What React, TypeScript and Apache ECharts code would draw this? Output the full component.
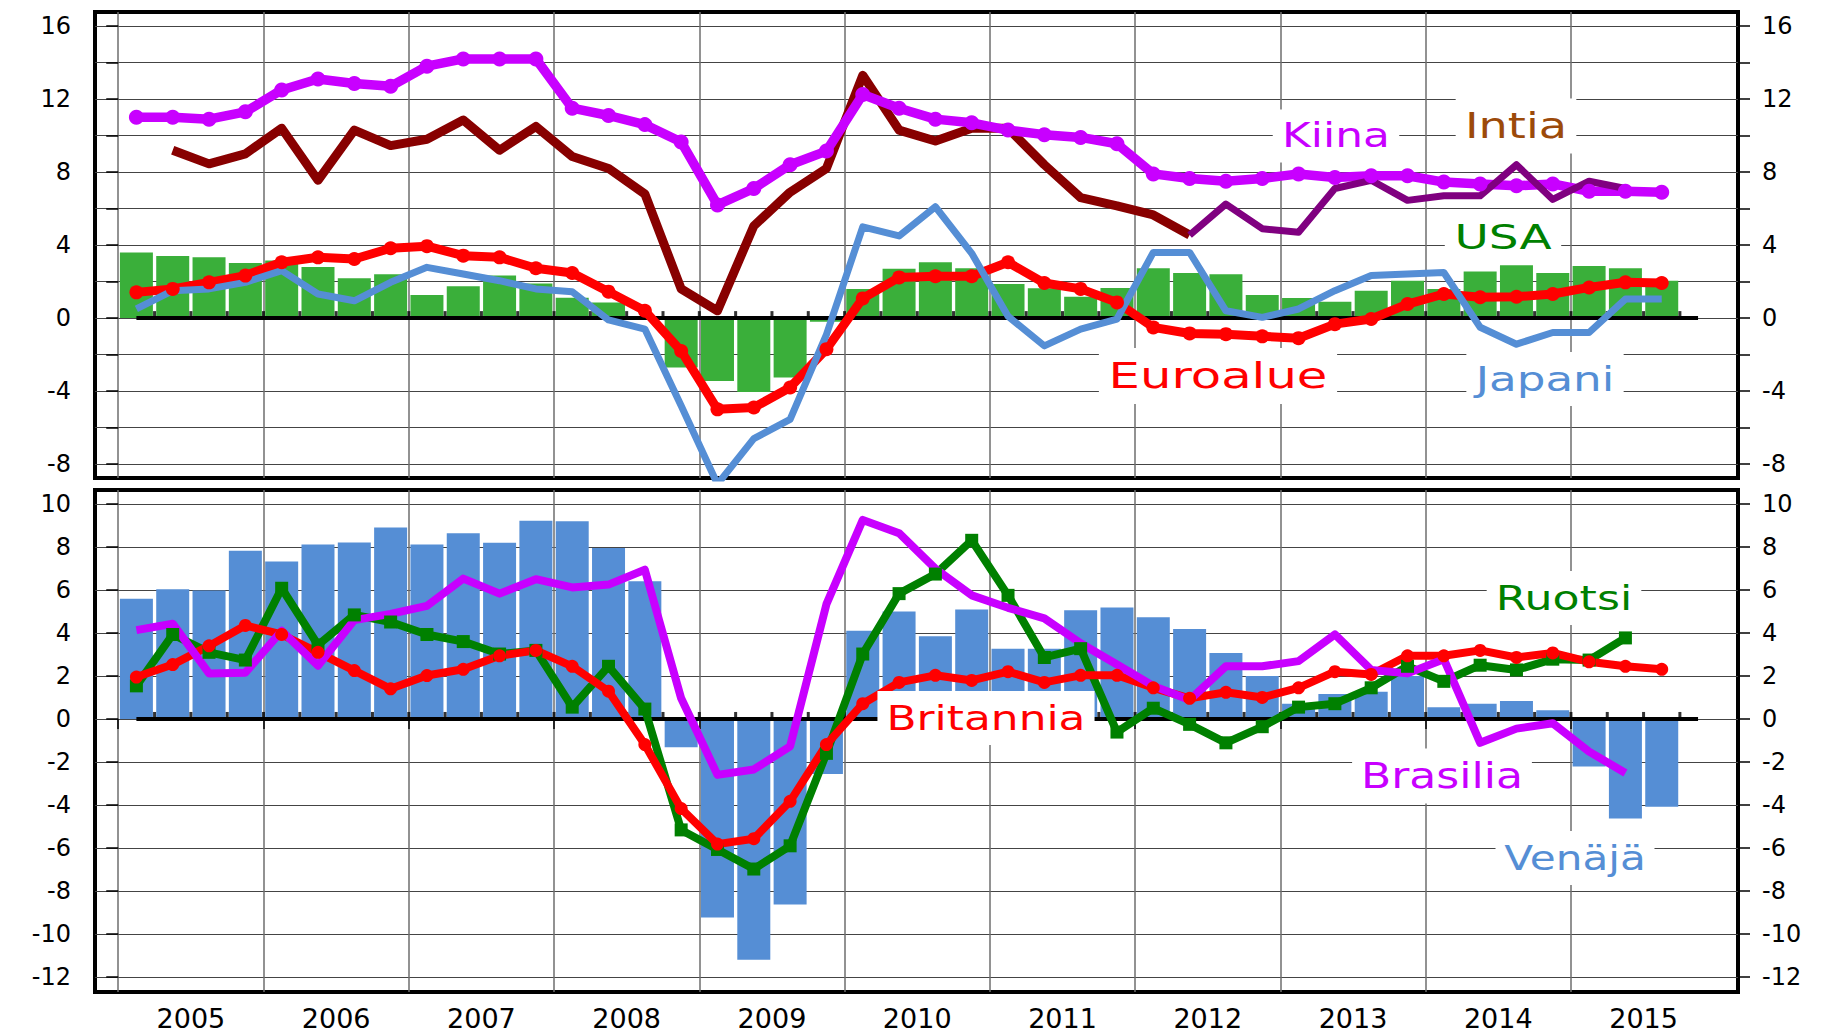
import React, { useEffect, useRef } from 'react';
import * as echarts from 'echarts';

// ---------- DATA ----------
const QUARTERS = [
  '2005Q1','2005Q2','2005Q3','2005Q4','2006Q1','2006Q2','2006Q3','2006Q4',
  '2007Q1','2007Q2','2007Q3','2007Q4','2008Q1','2008Q2','2008Q3','2008Q4',
  '2009Q1','2009Q2','2009Q3','2009Q4','2010Q1','2010Q2','2010Q3','2010Q4',
  '2011Q1','2011Q2','2011Q3','2011Q4','2012Q1','2012Q2','2012Q3','2012Q4',
  '2013Q1','2013Q2','2013Q3','2013Q4','2014Q1','2014Q2','2014Q3','2014Q4',
  '2015Q1','2015Q2','2015Q3'
];
const YEARS = ['2005','2006','2007','2008','2009','2010','2011','2012','2013','2014','2015'];

// Top panel
const USA = [3.6, 3.4, 3.33, 3.02, 3.15, 2.8, 2.18, 2.4, 1.26, 1.74, 2.33, 1.9, 1.12, 0.86, -0.1, -2.7, -3.44, -4.05, -3.26, -0.2, 1.6, 2.7, 3.06, 2.73, 1.87, 1.63, 1.17, 1.65, 2.73, 2.47, 2.4, 1.26, 1.1, 0.9, 1.5, 2.05, 1.6, 2.56, 2.9, 2.47, 2.86, 2.73, 2.05];
const EUROALUE = [1.41, 1.6, 1.96, 2.33, 3.06, 3.33, 3.24, 3.83, 3.94, 3.42, 3.33, 2.73, 2.47, 1.45, 0.4, -1.8, -5.0, -4.9, -3.8, -1.7, 1.08, 2.23, 2.29, 2.29, 3.06, 1.92, 1.6, 0.86, -0.51, -0.84, -0.88, -1.0, -1.1, -0.33, -0.05, 0.77, 1.32, 1.14, 1.17, 1.32, 1.68, 1.96, 1.92];
const JAPANI = [0.5, 1.5, 1.6, 1.96, 2.6, 1.32, 0.95, 1.96, 2.78, 2.42, 2.05, 1.6, 1.45, -0.1, -0.6, -4.8, -9.1, -6.6, -5.55, -0.9, 5.0, 4.5, 6.1, 3.55, 0.1, -1.52, -0.6, -0.05, 3.6, 3.6, 0.4, 0.04, 0.5, 1.5, 2.33, 2.42, 2.5, -0.5, -1.43, -0.79, -0.79, 1.04, 1.04];
const KIINA = [11.0, 11.0, 10.9, 11.3, 12.5, 13.1, 12.85, 12.7, 13.8, 14.2, 14.2, 14.2, 11.5, 11.1, 10.6, 9.65, 6.2, 7.1, 8.4, 9.15, 12.25, 11.5, 10.9, 10.7, 10.3, 10.05, 9.9, 9.55, 7.9, 7.65, 7.5, 7.65, 7.9, 7.7, 7.8, 7.8, 7.45, 7.35, 7.25, 7.35, 6.95, 6.95, 6.9];
const INTIA_OLD = [null, 9.2, 8.45, 9.0, 10.4, 7.55, 10.3, 9.45, 9.8, 10.85, 9.2, 10.5, 8.85, 8.2, 6.8, 1.6, 0.4, 5.05, 6.9, 8.2, 13.3, 10.3, 9.7, 10.4, 10.4, 8.4, 6.6, 6.15, 5.65, 4.55, null, null, null, null, null, null, null, null, null, null, null, null, null];
const INTIA_NEW = [null, null, null, null, null, null, null, null, null, null, null, null, null, null, null, null, null, null, null, null, null, null, null, null, null, null, null, null, null, 4.55, 6.25, 4.9, 4.7, 7.1, 7.55, 6.45, 6.7, 6.7, 8.4, 6.5, 7.5, 7.1, null];

// Bottom panel
const VENAJA = [5.59, 6.03, 5.98, 7.82, 7.32, 8.12, 8.21, 8.91, 8.12, 8.64, 8.2, 9.22, 9.2, 7.95, 6.41, -1.31, -9.24, -11.2, -8.63, -2.56, 4.1, 5.0, 3.85, 5.09, 3.27, 3.27, 5.06, 5.19, 4.73, 4.18, 3.07, 2.0, 0.71, 1.16, 1.26, 2.0, 0.55, 0.71, 0.84, 0.41, -2.21, -4.63, -4.08];
const BRITANNIA = [1.95, 2.53, 3.4, 4.35, 3.93, 3.1, 2.25, 1.4, 2.02, 2.31, 2.94, 3.19, 2.45, 1.29, -1.19, -4.17, -5.82, -5.57, -3.83, -1.19, 0.71, 1.7, 2.03, 1.79, 2.2, 1.7, 2.03, 2.03, 1.45, 0.96, 1.24, 1.0, 1.45, 2.2, 2.07, 2.94, 2.94, 3.19, 2.86, 3.07, 2.66, 2.45, 2.31];
const RUOTSI = [1.54, 3.93, 3.1, 2.74, 6.08, 3.44, 4.84, 4.51, 3.93, 3.6, 3.02, 3.19, 0.55, 2.45, 0.46, -5.16, -6.07, -6.98, -5.9, -1.6, 3.02, 5.83, 6.74, 8.31, 5.75, 2.86, 3.27, -0.61, 0.5, -0.25, -1.11, -0.36, 0.55, 0.71, 1.45, 2.45, 1.75, 2.5, 2.28, 2.78, 2.74, 3.77, null];
const BRASILIA = [4.13, 4.43, 2.12, 2.15, 4.1, 2.48, 4.6, 4.89, 5.26, 6.53, 5.83, 6.5, 6.12, 6.25, 6.94, 0.96, -2.6, -2.35, -1.27, 5.34, 9.26, 8.64, 6.99, 5.75, 5.17, 4.68, 3.52, 2.53, 1.54, 0.88, 2.45, 2.45, 2.69, 3.93, 2.28, 2.12, 2.78, -1.11, -0.45, -0.2, -1.52, -2.51, null];

// Axis ticks
const TOP_TICKS = [-8, -6, -4, -2, 0, 2, 4, 6, 8, 10, 12, 14, 16];
const TOP_LABELS = [-8, -4, 0, 4, 8, 12, 16];
const BOTTOM_TICKS = [-12, -10, -8, -6, -4, -2, 0, 2, 4, 6, 8, 10];
const YEAR_STARTS = [0, 4, 8, 12, 16, 20, 24, 28, 32, 36, 40];
const YEAR_MIDDLES = [2, 6, 10, 14, 18, 22, 26, 30, 34, 38, 42];
const QUARTER_BOUNDS = [1, 2, 3, 4, 5, 6, 7, 8, 9, 10, 11, 12, 13, 14, 15, 16, 17, 18, 19, 20, 21, 22, 23, 24, 25, 26, 27, 28, 29, 30, 31, 32, 33, 34, 35, 36, 37, 38, 39, 40, 41, 42, 43];
const ZERO_SPAN = [0.5, 43.5];

// ---------- LAYOUT ----------
const FONT = '"DejaVu Sans", sans-serif';
const X_MIN = -0.64;
const X_MAX = 44.6;
const TOP_MIN = -8.76;
const TOP_MAX = 16.77;
const BOT_MIN = -12.7;
const BOT_MAX = 10.65;

const LABELS = [
  { text: 'Kiina', x: 1336, y: 136, color: '#c800ff', size: 33, sx: 1.33 },
  { text: 'Intia', x: 1516, y: 126, color: '#9c4a0a', size: 35, sx: 1.32 },
  { text: 'USA', x: 1503, y: 237, color: '#008000', size: 34, sx: 1.38 },
  { text: 'Euroalue', x: 1218, y: 376, color: '#ff0000', size: 36, sx: 1.38 },
  { text: 'Japani', x: 1545, y: 379, color: '#558ed5', size: 34, sx: 1.33 },
  { text: 'Ruotsi', x: 1564, y: 598, color: '#008000', size: 34, sx: 1.3 },
  { text: 'Britannia', x: 986, y: 718, color: '#ff0000', size: 34, sx: 1.29 },
  { text: 'Brasilia', x: 1442, y: 776, color: '#c800ff', size: 35, sx: 1.26 },
  { text: 'Venäjä', x: 1575, y: 858, color: '#558ed5', size: 34, sx: 1.24 },
];

const pts = (arr: (number | null)[]) =>
  arr.map((v, i) => (v == null ? null : [i + 0.5, v])).filter((p) => p !== null) as number[][];

function xAxis(gridIndex: number, showLabels: boolean) {
  return {
    type: 'value',
    gridIndex,
    min: X_MIN,
    max: X_MAX,
    axisLine: { show: false },
    axisTick: {
      show: showLabels,
      customValues: YEAR_STARTS,
      length: 10,
      lineStyle: { color: '#000', width: 1.5 },
    },
    axisLabel: {
      show: showLabels,
      customValues: YEAR_MIDDLES,
      formatter: (v: number) => YEARS[Math.round((v - 2) / 4)] ?? '',
      fontSize: 27,
      color: '#000',
      margin: 13,
      fontFamily: FONT,
    },
    splitLine: { show: true, lineStyle: { color: '#6e6e6e', width: 1.5 } },
  };
}

function yAxis(gridIndex: number, position: string, min: number, max: number, ticks: number[], labels: number[], split: boolean) {
  return {
    type: 'value',
    gridIndex,
    position,
    min,
    max,
    axisLine: { show: false },
    axisTick: { show: true, customValues: ticks, length: 12, lineStyle: { color: '#000', width: 1.5 } },
    axisLabel: { customValues: labels, fontSize: 24, color: '#000', margin: 24, fontFamily: FONT },
    splitLine: { show: split, lineStyle: { color: '#444', width: 1.2 } },
  };
}

function line(data: number[][], color: string, width: number, xi: number, symbol?: string, size?: number) {
  return {
    type: 'line',
    xAxisIndex: xi,
    yAxisIndex: xi * 2,
    data,
    symbol: symbol || 'none',
    showSymbol: !!symbol,
    symbolSize: size || 0,
    lineStyle: { color, width, join: 'round', cap: 'butt' },
    itemStyle: { color },
    silent: true,
    clip: true,
  };
}

function bars(values: number[], color: string, xi: number) {
  return {
    type: 'bar',
    xAxisIndex: xi,
    yAxisIndex: xi * 2,
    data: pts(values),
    barWidth: 33,
    itemStyle: { color },
    silent: true,
  };
}

function zeroLine(xi: number) {
  return [
    line(ZERO_SPAN.map((x) => [x, 0]), '#000', 4, xi),
    {
      type: 'scatter',
      xAxisIndex: xi,
      yAxisIndex: xi * 2,
      data: QUARTER_BOUNDS.map((b) => [b, 0]),
      symbol: 'rect',
      symbolSize: [3, 8],
      symbolOffset: [0, -3],
      itemStyle: { color: '#000' },
      silent: true,
    },
  ];
}

export default function App() {
  const ref = useRef<HTMLDivElement>(null);
  useEffect(() => {
    if (!ref.current) return;
    const chart = echarts.init(ref.current, null, { renderer: 'svg' });
    const gridBase = { left: 95, width: 1643, show: true, borderColor: '#000', borderWidth: 4, backgroundColor: 'transparent' };
    chart.setOption({
      animation: false,
      backgroundColor: '#fff',
      textStyle: { fontFamily: FONT },
      grid: [
        { ...gridBase, top: 12, height: 466 },
        { ...gridBase, top: 490, height: 502 },
      ],
      xAxis: [xAxis(0, false), xAxis(1, true)],
      yAxis: [
        yAxis(0, 'left', TOP_MIN, TOP_MAX, TOP_TICKS, TOP_LABELS, true),
        yAxis(0, 'right', TOP_MIN, TOP_MAX, TOP_TICKS, TOP_LABELS, false),
        yAxis(1, 'left', BOT_MIN, BOT_MAX, BOTTOM_TICKS, BOTTOM_TICKS, true),
        yAxis(1, 'right', BOT_MIN, BOT_MAX, BOTTOM_TICKS, BOTTOM_TICKS, false),
      ],
      series: [
        bars(USA, '#3aaf3a', 0),
        ...zeroLine(0),
        line(pts(EUROALUE), '#ff0000', 9, 0, 'circle', 14),
        line(pts(JAPANI), '#558ed5', 7, 0),
        line(pts(INTIA_OLD), '#880000', 9, 0),
        line(pts(KIINA), '#c800ff', 9.5, 0, 'circle', 15),
        line(pts(INTIA_NEW), '#800080', 7, 0),
        bars(VENAJA, '#558ed5', 1),
        ...zeroLine(1),
        line(pts(RUOTSI), '#008000', 8, 1, 'rect', 13),
        line(pts(BRITANNIA), '#ff0000', 8, 1, 'circle', 13),
        line(pts(BRASILIA), '#c800ff', 8, 1),
      ],
      graphic: LABELS.map((l) => ({
        type: 'text',
        x: l.x,
        y: l.y,
        scaleX: l.sx,
        z: 50,
        silent: true,
        style: {
          text: l.text,
          fill: l.color,
          fontSize: l.size,
          fontFamily: FONT,
          align: 'center',
          verticalAlign: 'middle',
          textAlign: 'center',
          textVerticalAlign: 'middle',
          backgroundColor: '#fff',
          padding: [10, 7],
        },
      })),
    });
    return () => chart.dispose();
  }, []);
  return <div ref={ref} style={{ position: 'fixed', left: 0, top: 0, width: 1824, height: 1034, background: '#fff' }} />;
}
